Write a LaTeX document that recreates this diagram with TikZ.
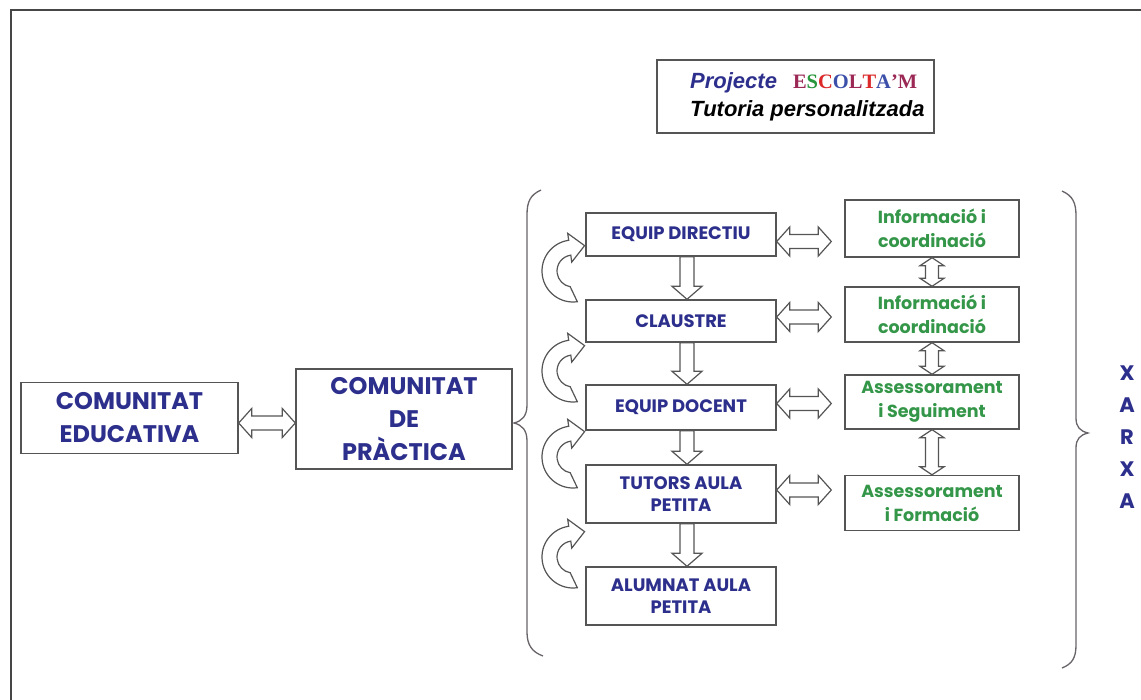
\documentclass[tikz,border=0pt]{standalone}
\usepackage{fontspec}
\usetikzlibrary{calc}
\newfontfamily\gothic{Poppins}
\newfontfamily\arialfont{Liberation Sans}
\newfontfamily\timesfont{Liberation Serif}
\definecolor{textblue}{RGB}{45,47,140}
\definecolor{textgreen}{RGB}{52,150,72}
\definecolor{boxline}{RGB}{85,85,85}
\definecolor{braceline}{RGB}{105,100,105}
\definecolor{escmaroon}{RGB}{155,40,85}
\definecolor{escgreen}{RGB}{40,150,60}
\definecolor{escred}{RGB}{220,40,40}
\definecolor{escblue}{RGB}{60,80,170}
\tikzset{
  box/.style={draw=boxline, line width=1.4pt, fill=white, inner sep=0pt, align=center},
  bigbox/.style={box, text=textblue, font=\gothic\bfseries\fontsize{24}{33}\selectfont},
  stepbox/.style={box, minimum width=190pt, text=textblue, font=\gothic\bfseries\fontsize{18}{22}\selectfont},
  netbox/.style={box, minimum width=174pt, text=textgreen, font=\gothic\bfseries\fontsize{17.5}{24}\selectfont},
  blkarrow/.style={draw=boxline, line width=1.2pt, fill=white, line join=miter},
  brace/.style={draw=braceline, line width=1.3pt}
}
% hollow arrow pointing down, from #1 to #2
\newcommand\downblk[2]{%
  \draw[blkarrow] let \p1=(#1), \p2=(#2) in
    ({\x1-7pt},\y1) -- ({\x1+7pt},\y1) -- ({\x1+7pt},{\y2-13pt}) -- ({\x1+15pt},{\y2-13pt})
    -- (\x1,\y2) -- ({\x1-15pt},{\y2-13pt}) -- ({\x1-7pt},{\y2-13pt}) -- cycle;
}
% hollow double arrow, horizontal, from #1 to #2 (height of #1)
\newcommand\hdblk[2]{%
  \draw[blkarrow] let \p1=(#1), \p2=(#2) in
    (\x1,\y1) -- ({\x1+13pt},{\y1+14.5pt}) -- ({\x1+13pt},{\y1+7pt}) -- ({\x2-13pt},{\y1+7pt})
    -- ({\x2-13pt},{\y1+14.5pt}) -- (\x2,\y1) -- ({\x2-13pt},{\y1-14.5pt}) -- ({\x2-13pt},{\y1-7pt})
    -- ({\x1+13pt},{\y1-7pt}) -- ({\x1+13pt},{\y1-14.5pt}) -- cycle;
}
% hollow double arrow, vertical, from #1 down to #2
\newcommand\vdblk[2]{%
  \draw[blkarrow] let \p1=(#1), \p2=(#2) in
    (\x1,\y1) -- ({\x1+12pt},{\y1+8pt}) -- ({\x1+6.5pt},{\y1+8pt}) -- ({\x1+6.5pt},{\y2-8pt})
    -- ({\x1+12pt},{\y2-8pt}) -- (\x1,\y2) -- ({\x1-12pt},{\y2-8pt}) -- ({\x1-6.5pt},{\y2-8pt})
    -- ({\x1-6.5pt},{\y1+8pt}) -- ({\x1-12pt},{\y1+8pt}) -- cycle;
}
% curved hollow arrow around centre #1
\newcommand\turnarrow[1]{%
  \draw[blkarrow] ($(#1)+(82:31)$) arc[start angle=82, end angle=262, radius=31]
    -- ($(#1)+(262:38)$) -- ($(#1)+(262:23.5)+(352:15)$) -- ($(#1)+(262:9)$)
    -- ($(#1)+(262:16)$) arc[start angle=262, end angle=100, radius=16] -- cycle;
}
\begin{document}
\begin{tikzpicture}[x=1pt,y=1pt,yscale=-1,xscale=1]
\useasboundingbox (0,0) rectangle (1141,700);

%Frame
\draw [draw={rgb,255:red,70;green,70;blue,70}, line width=1.5pt] (11,700) -- (11,10) -- (1141,10);

%Title
\node [box, minimum width=277pt, minimum height=73pt, line width=1.5pt] (title) at (795.5,96.5) {};
% Text Node
\node [anchor=west, inner sep=0pt, align=left, font=\fontsize{22}{28}\selectfont] (titletext) at (690,97)
  {{\arialfont\bfseries\itshape\color{textblue}Projecte}\hspace{16pt}{\fontsize{20.5}{28}\selectfont\timesfont\bfseries\textcolor{escmaroon}{E}\textcolor{escgreen}{S}\textcolor{escred}{C}\textcolor{escblue}{O}\textcolor{escmaroon}{L}\textcolor{escred}{T}\textcolor{escblue}{A}\textcolor{escmaroon}{’M}}\\
   {\arialfont\bfseries\itshape Tutoria personalitzada}};

%Left boxes
\node [bigbox, minimum width=217pt, minimum height=71pt] (edu) at (129.5,418) {COMUNITAT\\EDUCATIVA};
\node [bigbox, minimum width=216pt, minimum height=100pt] (prac) at (404,419) {COMUNITAT\\DE\\PRÀCTICA};
\hdblk{$(edu.east)+(0,5)$}{prac.west}

%Left brace
\draw [brace] (541,190) .. controls (530,195) and (527,202) .. (527,215) -- (527,405)
  .. controls (527,416) and (522,421) .. (514,423) .. controls (522,425) and (527,430) .. (527,441)
  -- (527,632) .. controls (527,645) and (532,652) .. (543,656);

%Steps column
\node [stepbox, minimum height=43pt] (dir) at (681,234.5) {EQUIP DIRECTIU};
\node [stepbox, minimum height=42pt] (cla) at (681,321) {CLAUSTRE};
\node [stepbox, minimum height=45pt] (doc) at (681,407.5) {EQUIP DOCENT};
\node [stepbox, minimum height=58pt] (tut) at (681,494) {TUTORS AULA\\PETITA};
\node [stepbox, minimum height=58pt] (alu) at (681,596) {ALUMNAT AULA\\PETITA};

\downblk{$(dir.south)+(6,0)$}{$(cla.north)+(6,0)$}
\downblk{$(cla.south)+(6,0)$}{$(doc.north)+(6,0)$}
\downblk{$(doc.south)+(6,0)$}{$(tut.north)+(6,0)$}
\downblk{$(tut.south)+(6,0)$}{$(alu.north)+(6,0)$}

%Curved arrows
\turnarrow{573,271}
\turnarrow{573,371}
\turnarrow{573,457}
\turnarrow{573,557}

%Network column
\node [netbox, minimum height=57pt] (inf1) at (932,228.5) {Informació i\\coordinació};
\node [netbox, minimum height=55pt] (inf2) at (932,314.5) {Informació i\\coordinació};
\node [netbox, minimum height=54pt] (seg) at (932,402) {Assessorament\\i Seguiment};
\node [netbox, minimum height=55pt] (form) at (932,503) {Assessorament\\i Formació};

\hdblk{$(dir.east)+(0,7)$}{$(inf1.west)+(-13,0)$}
\hdblk{$(cla.east)+(0,-4)$}{$(inf2.west)+(-13,0)$}
\hdblk{$(doc.east)+(0,-4)$}{$(seg.west)+(-13,0)$}
\hdblk{$(tut.east)+(0,-4)$}{$(form.west)+(-13,0)$}

\vdblk{inf1.south}{inf2.north}
\vdblk{inf2.south}{seg.north}
\vdblk{seg.south}{form.north}

%Right brace
\draw [brace] (1062,191) .. controls (1073,196) and (1076,203) .. (1076,216) -- (1076,418)
  .. controls (1076,427) and (1080,431) .. (1088,433) .. controls (1080,435) and (1076,439) .. (1076,448)
  -- (1076,645) .. controls (1076,658) and (1072,664) .. (1062,668);

% Text Node
\node [text=textblue, font=\gothic\bfseries\fontsize{21}{32}\selectfont, align=center] (xarxa) at (1127,437) {X\\A\\R\\X\\A};

\end{tikzpicture}
\end{document}
